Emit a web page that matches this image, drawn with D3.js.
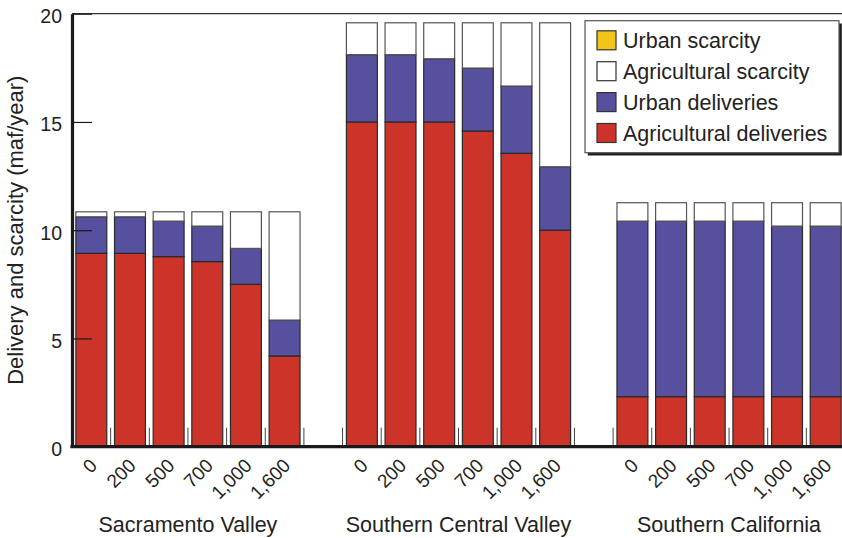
<!DOCTYPE html>
<html>
<head>
<meta charset="utf-8">
<script src="https://cdn.jsdelivr.net/npm/d3@7"></script>
<style>
  html, body { margin: 0; padding: 0; background: #fff; }
  svg { display: block; font-family: "Liberation Sans", Arial, Helvetica, sans-serif; }
</style>
</head>
<body>
<svg id="chart" width="842" height="538"></svg>
<script>
// ---------------- data ----------------
const regions = ["Sacramento Valley", "Southern Central Valley", "Southern California"];
const capacityLabels = ["0", "200", "500", "700", "1,000", "1,600"];
const yTickValues = [0, 5, 10, 15, 20];

// values in maf/year, listed region by region, capacity by capacity
const agriculturalDeliveries = [
  8.93, 8.93, 8.78, 8.55, 7.50, 4.19,
  15.00, 15.00, 15.00, 14.58, 13.55, 10.00,
  2.31, 2.31, 2.31, 2.31, 2.31, 2.31
];
const urbanDeliveries = [
  1.69, 1.69, 1.64, 1.64, 1.66, 1.66,
  3.11, 3.11, 2.92, 2.91, 3.11, 2.93,
  8.11, 8.11, 8.11, 8.11, 7.88, 7.88
];
const agriculturalScarcity = [
  0.23, 0.23, 0.43, 0.66, 1.69, 5.00,
  1.47, 1.47, 1.66, 2.09, 2.92, 6.65,
  0.85, 0.85, 0.85, 0.85, 1.08, 1.08
];
const urbanScarcity = [
  0, 0, 0, 0, 0, 0,
  0, 0, 0, 0, 0, 0,
  0, 0, 0, 0, 0, 0
];

const seriesKeys = ["agDel", "urbDel", "agScar", "urbScar"];
const seriesNames = {
  agDel: "Agricultural deliveries",
  urbDel: "Urban deliveries",
  agScar: "Agricultural scarcity",
  urbScar: "Urban scarcity"
};
const colors = { agDel: "#cc3429", urbDel: "#56509e", agScar: "#ffffff", urbScar: "#f0c419" };
const strokes = { agDel: "#2a2a2a", urbDel: "#2a2a2a", agScar: "#555555", urbScar: "#2a2a2a" };

// ---------------- build rows ----------------
const rows = [];
regions.forEach((region, ri) => {
  capacityLabels.forEach((cap, ci) => {
    const i = ri * capacityLabels.length + ci;
    rows.push({
      slot: `${ri}-${ci}`, region, cap,
      agDel: agriculturalDeliveries[i],
      urbDel: urbanDeliveries[i],
      agScar: agriculturalScarcity[i],
      urbScar: urbanScarcity[i]
    });
  });
});

// slots: 6 bars per region, one empty slot between regions
const slots = [];
regions.forEach((region, ri) => {
  capacityLabels.forEach((cap, ci) => slots.push(`${ri}-${ci}`));
  if (ri < regions.length - 1) slots.push(`gap${ri}`);
});

// ---------------- scales ----------------
const svg = d3.select("#chart");
const plotLeft = 72, plotRight = 845, plotTop = 13.7, plotBottom = 446.7;

const x = d3.scaleBand().domain(slots).range([plotLeft, plotRight]).paddingInner(0.2).paddingOuter(0.1);
const y = d3.scaleLinear().domain([0, 20]).range([plotBottom, plotTop]);
const step = x.step();
const half = step * x.paddingInner() / 2;

const stacked = d3.stack().keys(seriesKeys)(rows);

// ---------------- bars ----------------
const gBars = svg.append("g");
stacked.forEach(layer => {
  const key = layer.key;
  gBars.append("g")
    .selectAll("rect")
    .data(layer.filter(d => d[1] - d[0] > 0))
    .join("rect")
    .attr("x", d => x(d.data.slot))
    .attr("width", x.bandwidth())
    .attr("y", d => y(d[1]))
    .attr("height", d => y(d[0]) - y(d[1]))
    .attr("fill", colors[key])
    .attr("stroke", strokes[key])
    .attr("stroke-width", 1.2);
});

// small separator ticks on the baseline between slots
const boundaryX = slots.slice(1).map(s => x(s) - half).concat([x(slots[slots.length - 1]) + x.bandwidth() + half]);
svg.append("g")
  .selectAll("line")
  .data(boundaryX)
  .join("line")
  .attr("x1", d => d)
  .attr("x2", d => d)
  .attr("y1", plotBottom - 19)
  .attr("y2", plotBottom)
  .attr("stroke", "#444")
  .attr("stroke-width", 1);

// ---------------- frame ----------------
svg.append("line")
  .attr("x1", plotLeft).attr("x2", 842)
  .attr("y1", y(20)).attr("y2", y(20))
  .attr("stroke", "#333").attr("stroke-width", 1.3);

const yAxis = d3.axisLeft(y)
  .tickValues(yTickValues)
  .tickSizeInner(-20)
  .tickSizeOuter(0)
  .tickPadding(10)
  .tickFormat(d3.format("d"));

const gy = svg.append("g").attr("transform", `translate(${plotLeft},0)`).call(yAxis);
gy.select(".domain").attr("stroke", "#1a1a1a").attr("stroke-width", 3.2);
gy.selectAll(".tick line").attr("stroke", "#1a1a1a").attr("stroke-width", 1.2);
gy.selectAll(".tick text")
  .attr("font-family", "Liberation Sans, Arial, sans-serif")
  .attr("font-size", 19.5)
  .attr("fill", "#222")
  .attr("dy", "0.46em");

svg.append("line")
  .attr("x1", plotLeft - 1.6).attr("x2", 842)
  .attr("y1", plotBottom).attr("y2", plotBottom)
  .attr("stroke", "#1a1a1a").attr("stroke-width", 3.2);

// ---------------- x labels ----------------
svg.append("g")
  .selectAll("text")
  .data(rows)
  .join("text")
  .attr("transform", d => `translate(${x(d.slot) + x.bandwidth() / 2 + 7},${plotBottom + 20}) rotate(-45)`)
  .attr("text-anchor", "end")
  .attr("font-size", 19)
  .attr("fill", "#222")
  .text(d => d.cap);

svg.append("g")
  .selectAll("text")
  .data(regions)
  .join("text")
  .attr("x", (r, ri) => {
    const first = x(`${ri}-0`) - half;
    const last = x(`${ri}-${capacityLabels.length - 1}`) + x.bandwidth() + half;
    return (first + last) / 2;
  })
  .attr("y", 532)
  .attr("text-anchor", "middle")
  .attr("font-size", 21.5)
  .attr("fill", "#222")
  .text(d => d);

// ---------------- y label ----------------
svg.append("text")
  .attr("transform", `translate(23,${(y(0) + y(20)) / 2}) rotate(-90)`)
  .attr("text-anchor", "middle")
  .attr("font-size", 22)
  .attr("fill", "#222")
  .text("Delivery and scarcity (maf/year)");

// ---------------- legend ----------------
const legendKeys = ["urbScar", "agScar", "urbDel", "agDel"];
const lg = svg.append("g");
const lx = 585, ly = 20.7, lw = 254, lh = 132;
lg.append("rect").attr("x", lx + 2.8).attr("y", ly + 2.8).attr("width", lw).attr("height", lh).attr("fill", "#1e1e1e");
lg.append("rect").attr("x", lx).attr("y", ly).attr("width", lw).attr("height", lh)
  .attr("fill", "#fff").attr("stroke", "#555").attr("stroke-width", 1.2);

const rowY = d3.scalePoint().domain(legendKeys).range([40.3, 133]);
const items = lg.selectAll("g.item").data(legendKeys).join("g").attr("class", "item")
  .attr("transform", k => `translate(0,${rowY(k)})`);
items.append("rect")
  .attr("x", 597).attr("y", -9.5).attr("width", 19).attr("height", 19)
  .attr("fill", k => colors[k]).attr("stroke", "#333").attr("stroke-width", 1.2);
items.append("text")
  .attr("x", 623).attr("y", 8)
  .attr("font-size", 21.5)
  .attr("fill", "#222")
  .text(k => seriesNames[k]);
</script>
</body>
</html>
